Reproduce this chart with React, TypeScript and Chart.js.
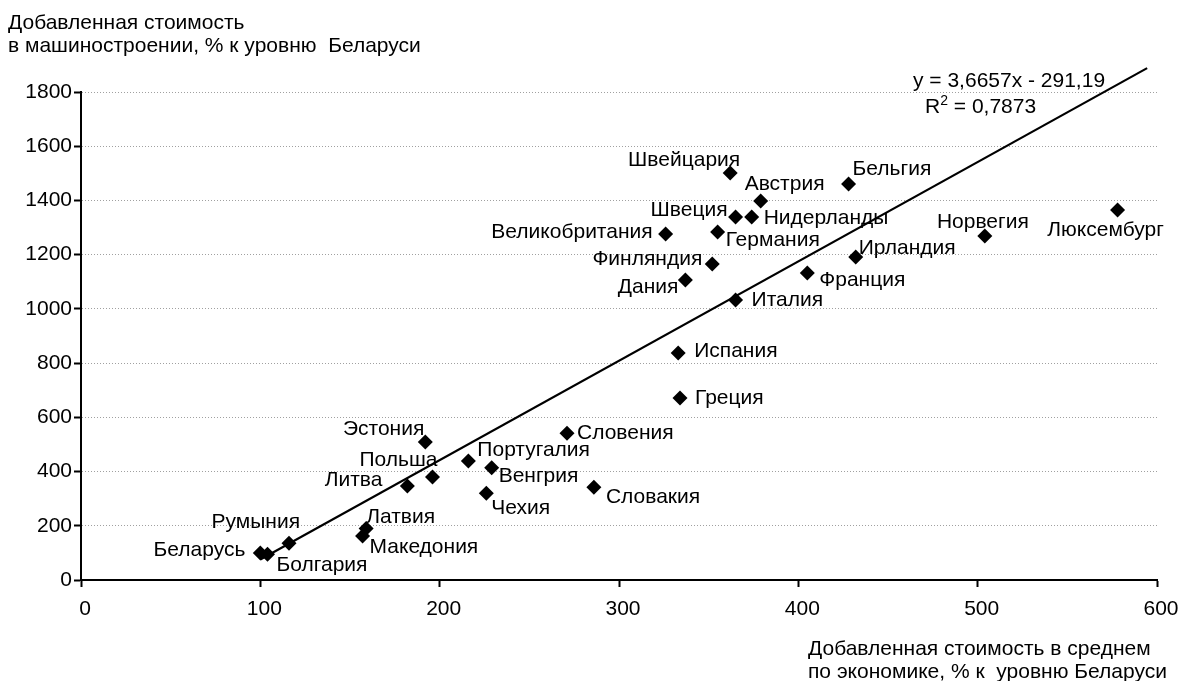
import React, { useEffect, useRef } from "react";
import { Chart, registerables } from "chart.js";

Chart.register(...registerables);

const countries = [
  "Беларусь", "Болгария", "Румыния", "Латвия", "Македония", "Литва", "Польша", "Эстония",
  "Португалия", "Венгрия", "Чехия", "Словения", "Словакия", "Греция", "Испания", "Италия",
  "Дания", "Финляндия", "Великобритания", "Германия", "Швеция", "Нидерланды", "Австрия",
  "Швейцария", "Бельгия", "Франция", "Ирландия", "Норвегия", "Люксембург",
];
const economyValues = [
  100, 104, 116, 159, 157, 182, 196, 192,
  216, 229, 226, 271, 286, 334, 333, 365,
  337, 352, 326, 355, 365, 374, 379,
  362, 428, 405, 432, 504, 578,
];
const engineeringValues = [
  100, 95, 136, 190, 162, 347, 380, 509,
  439, 414, 320, 541, 342, 671, 837, 1033,
  1107, 1166, 1276, 1284, 1339, 1339, 1398,
  1501, 1461, 1132, 1191, 1269, 1365,
];
// label placement: [align, dx, dy] relative to the marker
const labelPlacement: [CanvasTextAlign, number, number][] = [
  ["right", -15, -3], ["left", 9, 11], ["right", 11, -21], ["left", 0, -11], ["left", 7, 11],
  ["right", -25, -6], ["right", 5, -17], ["right", -1, -13], ["left", 9, -11], ["left", 7, 8],
  ["left", 5, 15], ["left", 10, 0], ["left", 12, 10], ["left", 15, 0], ["left", 16, -2],
  ["left", 16, 0], ["right", -7, 7], ["right", -10, -5], ["right", -13, -2], ["left", 8, 8],
  ["right", -8, -7], ["left", 12, 1], ["left", -16, -17], ["right", 10, -13], ["left", 4, -15],
  ["left", 12, 7], ["left", 3, -9], ["center", -2, -14], ["center", -12, 20],
];
const trendSlope = 3.6657;
const trendIntercept = -291.19;
const trendRange = [100, 594.5];
const xTicks = [0, 100, 200, 300, 400, 500, 600];
const yTicks = [0, 200, 400, 600, 800, 1000, 1200, 1400, 1600, 1800];

const FONT = "'Liberation Sans', Arial, sans-serif";
const FS = 21;

const labelPlugin = {
  id: "pointLabels",
  afterDatasetsDraw(chart: any) {
    const meta = chart.getDatasetMeta(0);
    const ctx = chart.ctx;
    ctx.save();
    ctx.font = `${FS}px ${FONT}`;
    ctx.fillStyle = "#000";
    ctx.textBaseline = "middle";
    meta.data.forEach((el: any, i: number) => {
      const [align, dx, dy] = labelPlacement[i];
      ctx.textAlign = align;
      ctx.fillText(countries[i], el.x + dx, el.y + dy);
    });
    ctx.restore();
  },
};

export default function App() {
  const ref = useRef<HTMLCanvasElement>(null);
  useEffect(() => {
    const points = countries.map((_, i) => ({ x: economyValues[i], y: engineeringValues[i] }));
    const trend = trendRange.map((x) => ({ x, y: trendSlope * x + trendIntercept }));
    const chart = new Chart(ref.current!, {
      type: "scatter",
      data: {
        datasets: [
          {
            type: "scatter",
            data: points,
            pointStyle: "rectRot",
            pointRadius: 7.5,
            backgroundColor: "#000",
            borderWidth: 0,
            order: 0,
          } as any,
          {
            type: "line",
            data: trend,
            borderColor: "#000",
            borderWidth: 2.2,
            pointRadius: 0,
            fill: false,
            clip: false,
            order: 1,
          } as any,
        ],
      },
      plugins: [labelPlugin],
      options: {
        animation: false,
        responsive: true,
        maintainAspectRatio: false,
        layout: { padding: { left: 0, right: 28, top: 92, bottom: 0 } },
        plugins: { legend: { display: false }, tooltip: { enabled: false } },
        scales: {
          x: {
            type: "linear",
            min: 0,
            max: 600,
            afterBuildTicks: (s: any) => { s.ticks = xTicks.map((v) => ({ value: v })); },
            afterFit: (s: any) => { s.height = 101; },
            ticks: {
              color: "#000", font: { size: FS, family: FONT }, padding: 10, autoSkip: false,
              maxRotation: 0, labelOffset: 4, callback: (v: any) => String(v),
            },
            grid: { drawOnChartArea: false, drawTicks: true, tickLength: 7, tickColor: "#000", tickWidth: 2 },
            border: { display: true, color: "#000", width: 2 },
          },
          y: {
            type: "linear",
            min: 0,
            max: 1800,
            afterBuildTicks: (s: any) => { s.ticks = yTicks.map((v) => ({ value: v })); },
            afterFit: (s: any) => { s.width = 81; },
            ticks: { color: "#000", font: { size: FS, family: FONT }, padding: 2, callback: (v: any) => String(v) },
            grid: { color: "#a0a0a0", lineWidth: 1, tickLength: 7, tickColor: "#000", tickWidth: 2 },
            border: { display: true, color: "#000", width: 2, dash: [1, 2] },
          },
        },
      } as any,
    });
    return () => chart.destroy();
  }, []);

  const textStyle: React.CSSProperties = {
    position: "absolute",
    fontFamily: FONT,
    fontSize: FS,
    lineHeight: "23px",
    color: "#000",
    whiteSpace: "pre",
  };

  return (
    <div style={{ position: "absolute", left: 0, top: 0, width: 1185, height: 681, background: "#fff", overflow: "hidden" }}>
      <canvas ref={ref} style={{ position: "absolute", left: 0, top: 0 }} />
      <div style={{ ...textStyle, left: 8, top: 10 }}>
        {"Добавленная стоимость\nв машиностроении, % к уровню  Беларуси"}
      </div>
      <div style={{ ...textStyle, left: 808, top: 636 }}>
        {"Добавленная стоимость в среднем\nпо экономике, % к  уровню Беларуси"}
      </div>
      <div style={{ ...textStyle, left: 913, top: 68 }}>{"y = 3,6657x - 291,19"}</div>
      <div style={{ ...textStyle, left: 925, top: 94 }}>
        R<sup style={{ fontSize: 14, verticalAlign: "8px", lineHeight: 0 }}>2</sup>{" = 0,7873"}
      </div>
    </div>
  );
}
